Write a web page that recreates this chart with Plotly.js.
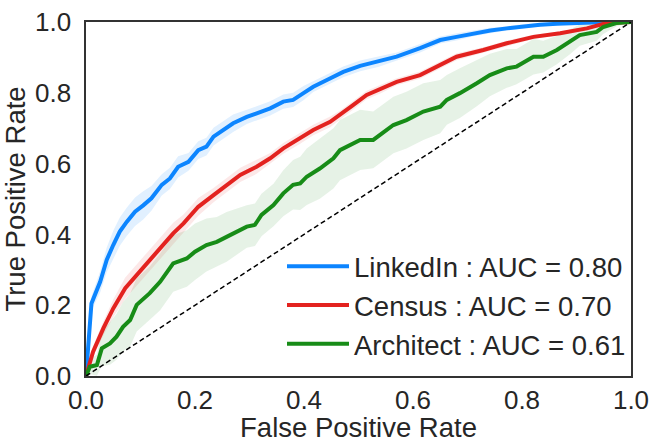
<!DOCTYPE html>
<html>
<head>
<meta charset="utf-8">
<script src="https://cdn.plot.ly/plotly-3.0.1.min.js"></script>
<style>html,body{margin:0;padding:0;background:#fff;}#chart{width:664px;height:443px;}</style>
</head>
<body>
<div id="chart"></div>
<script>
// ---- data ----
const seriesNames = ["LinkedIn : AUC = 0.80", "Census : AUC = 0.70", "Architect : AUC = 0.61"];
const seriesColors = ["#0c85ff", "#e3221f", "#178c17"];
const bandColors = ["rgba(12,133,255,0.12)", "rgba(227,34,31,0.10)", "rgba(23,140,23,0.11)"];

const linkedinFpr = [0,0.010,0.026,0.038,0.050,0.062,0.075,0.090,0.105,0.120,0.139,0.154,0.169,0.188,0.206,0.221,0.234,0.252,0.270,0.295,0.313,0.338,0.362,0.380,0.399,0.417,0.442,0.472,0.503,0.536,0.570,0.613,0.650,0.680,0.711,0.742,0.772,0.803,0.833,0.864,0.894,0.925,0.955,1];
const linkedinTpr = [0,0.205,0.266,0.328,0.370,0.408,0.436,0.464,0.482,0.502,0.540,0.558,0.591,0.605,0.638,0.648,0.676,0.695,0.714,0.732,0.742,0.756,0.775,0.780,0.799,0.817,0.836,0.859,0.876,0.888,0.902,0.926,0.949,0.958,0.968,0.976,0.982,0.988,0.992,0.995,0.997,0.999,1,1];
const linkedinStd = [0,0.02,0.03,0.035,0.04,0.04,0.04,0.04,0.04,0.035,0.03,0.03,0.03,0.025,0.025,0.025,0.025,0.025,0.025,0.02,0.02,0.02,0.02,0.02,0.02,0.015,0.015,0.015,0.015,0.015,0.012,0.012,0.01,0.01,0.008,0.008,0.006,0.006,0.005,0.004,0.003,0.002,0.001,0];

const censusFpr = [0,0.013,0.032,0.050,0.072,0.093,0.114,0.142,0.160,0.179,0.206,0.234,0.258,0.283,0.313,0.338,0.362,0.393,0.417,0.448,0.466,0.490,0.515,0.540,0.570,0.613,0.650,0.680,0.729,0.772,0.821,0.870,0.919,0.955,1];
const censusTpr = [0,0.069,0.135,0.191,0.248,0.285,0.323,0.370,0.403,0.431,0.478,0.511,0.540,0.568,0.591,0.615,0.643,0.671,0.695,0.718,0.737,0.765,0.794,0.810,0.831,0.850,0.878,0.902,0.921,0.940,0.958,0.968,0.982,0.997,1];
const censusStd = [0,0.015,0.02,0.025,0.03,0.03,0.03,0.03,0.03,0.025,0.025,0.02,0.02,0.02,0.02,0.015,0.015,0.015,0.015,0.015,0.012,0.012,0.012,0.012,0.01,0.01,0.01,0.01,0.008,0.008,0.006,0.005,0.004,0.002,0];

const architectFpr = [0,0.007,0.020,0.029,0.044,0.056,0.068,0.081,0.093,0.117,0.136,0.160,0.185,0.200,0.221,0.240,0.258,0.277,0.295,0.310,0.322,0.344,0.362,0.380,0.393,0.405,0.429,0.454,0.466,0.503,0.527,0.564,0.588,0.619,0.650,0.662,0.686,0.717,0.741,0.772,0.790,0.821,0.839,0.864,0.888,0.906,0.937,0.949,0.973,1];
const architectTpr = [0,0.026,0.031,0.078,0.092,0.111,0.139,0.158,0.201,0.234,0.266,0.318,0.332,0.351,0.370,0.379,0.393,0.408,0.422,0.427,0.455,0.483,0.516,0.540,0.544,0.563,0.586,0.615,0.638,0.667,0.667,0.709,0.723,0.747,0.761,0.780,0.799,0.827,0.850,0.869,0.874,0.902,0.902,0.921,0.944,0.963,0.972,0.986,0.997,1];
const architectStd = [0,0.02,0.03,0.05,0.06,0.065,0.07,0.075,0.075,0.075,0.08,0.08,0.08,0.08,0.075,0.07,0.07,0.065,0.06,0.06,0.06,0.06,0.065,0.07,0.075,0.08,0.085,0.085,0.085,0.085,0.08,0.08,0.08,0.08,0.075,0.07,0.07,0.065,0.06,0.055,0.05,0.05,0.045,0.04,0.035,0.03,0.025,0.02,0.01,0];

const chanceX = [0, 1];
const chanceY = [0, 1];
const tickVals = [0, 0.2, 0.4, 0.6, 0.8, 1.0];
const tickText = ["0.0", "0.2", "0.4", "0.6", "0.8", "1.0"];
const xTitle = "False Positive Rate";
const yTitle = "True Positive Rate";

// ---- build traces ----
const allFpr = [linkedinFpr, censusFpr, architectFpr];
const allTpr = [linkedinTpr, censusTpr, architectTpr];
const allStd = [linkedinStd, censusStd, architectStd];

const traces = [];
for (let s = 0; s < 3; s++) {
  const fx = allFpr[s], ty = allTpr[s], sd = allStd[s];
  const upper = ty.map((v, i) => Math.min(1, v + sd[i]));
  const lower = ty.map((v, i) => Math.max(0, v - sd[i]));
  traces.push({
    x: fx.concat(fx.slice().reverse()),
    y: upper.concat(lower.slice().reverse()),
    type: "scatter", mode: "lines", fill: "toself",
    fillcolor: bandColors[s], line: {width: 0, color: "rgba(0,0,0,0)"},
    hoverinfo: "skip", showlegend: false
  });
}
for (let s = 0; s < 3; s++) {
  traces.push({
    x: allFpr[s], y: allTpr[s], type: "scatter", mode: "lines",
    name: seriesNames[s], line: {color: seriesColors[s], width: 4}
  });
}
traces.push({
  x: chanceX, y: chanceY, type: "scatter", mode: "lines",
  line: {color: "#000", width: 1.5, dash: "5px,3px"}, showlegend: false, hoverinfo: "skip"
});

const fontFam = "Liberation Sans, Arial, sans-serif";
const axisCommon = {
  range: [0, 1], tickvals: tickVals, ticktext: tickText,
  showgrid: false, zeroline: false, showline: true, mirror: true,
  linecolor: "#333", linewidth: 1.6,
  ticks: "outside", tickcolor: "rgba(0,0,0,0)",
  tickfont: {family: fontFam, size: 26, color: "#262626"},
  automargin: false, fixedrange: true
};

const layout = {
  width: 664, height: 443,
  margin: {l: 86, r: 33, t: 22, b: 67},
  paper_bgcolor: "#fff", plot_bgcolor: "#fff",
  font: {family: fontFam, color: "#262626"},
  xaxis: Object.assign({}, axisCommon, {ticklen: 0, title: {text: xTitle, font: {family: fontFam, size: 27.5, color: "#262626"}, standoff: 2}}),
  yaxis: Object.assign({}, axisCommon, {ticklen: 8, title: {text: yTitle, font: {family: fontFam, size: 27.5, color: "#262626"}, standoff: 4}}),
  legend: {
    x: 1, y: 0.02, xanchor: "right", yanchor: "bottom",
    bgcolor: "rgba(0,0,0,0)", borderwidth: 0,
    font: {family: fontFam, size: 27.5, color: "#262626"},
    traceorder: "normal", itemwidth: 62
  },
  showlegend: true
};

Plotly.newPlot("chart", traces, layout, {staticPlot: true, displayModeBar: false});
</script>
</body>
</html>
